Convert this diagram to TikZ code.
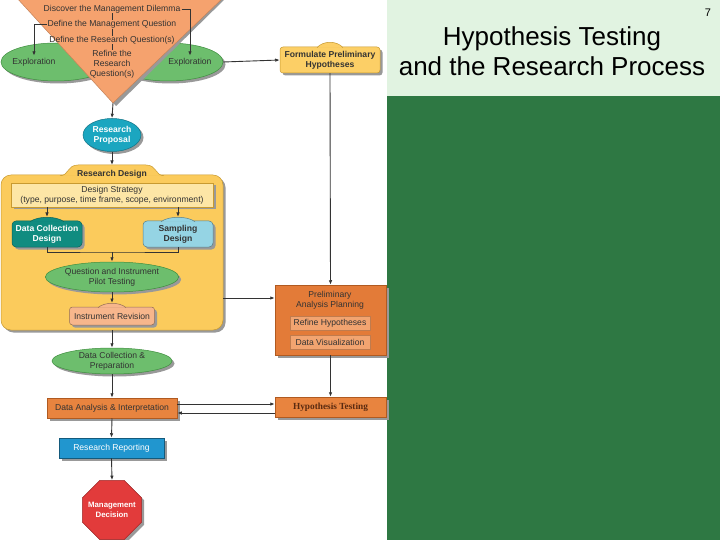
\documentclass[tikz,border=0pt]{standalone}
\usepackage{fontspec}
\setmainfont{Liberation Sans}
\newfontfamily\serifbold{Liberation Serif}
\usetikzlibrary{shapes.geometric,shadows,arrows.meta}
\definecolor{lgreen}{HTML}{E1F3E1}
\definecolor{dgreen}{HTML}{2E7843}
\definecolor{triorange}{HTML}{F5A26E}
\definecolor{ellgreen}{HTML}{6DBE6D}
\definecolor{ellline}{HTML}{3E8E3E}
\definecolor{rdgold}{HTML}{FBCB5C}
\definecolor{rdline}{HTML}{C89A30}
\definecolor{dsfill}{HTML}{FDE6A6}
\definecolor{propteal}{HTML}{1BA6C0}
\definecolor{dcdteal}{HTML}{108C80}
\definecolor{sdblue}{HTML}{95D4E4}
\definecolor{irfill}{HTML}{F7B68C}
\definecolor{papfill}{HTML}{E37B38}
\definecolor{papsub}{HTML}{F2A470}
\definecolor{htfill}{HTML}{E8843F}
\definecolor{orline}{HTML}{B05A20}
\definecolor{rrblue}{HTML}{2196CF}
\definecolor{mdred}{HTML}{E23B3B}
\definecolor{txt}{HTML}{333333}
\definecolor{htbrown}{HTML}{5A2A10}
\definecolor{fphfill}{HTML}{FCCF66}
\newcommand\tabbump[6]{%
  \filldraw[fill=#5,draw=#6,line width=0.5pt] (#1-#3,#2+0.7) .. controls (#1-#3*0.55,#2-#4*1.3) and (#1+#3*0.55,#2-#4*1.3) .. (#1+#3,#2+0.7);}
\begin{document}
\begin{tikzpicture}[x=1pt,y=-1pt,
  every node/.style={font=\fontsize{8.6}{10}\selectfont, align=center, inner sep=0pt, text=txt},
  arr/.style={-{Latex[length=4.5pt,width=3.5pt]}, draw=black!80, line width=0.9pt},
  ln/.style={draw=black!80, line width=0.9pt},
  shd/.style={drop shadow={shadow xshift=2.5pt,shadow yshift=-2.5pt,fill=black!40,opacity=1}},
  ell/.style={ellipse, fill=ellgreen, draw=ellline, line width=0.5pt, shd},
  box/.style={rectangle, line width=0.5pt, shd},
  bold/.style={font=\fontsize{8.6}{10}\selectfont\bfseries}
]
% background
\fill[white] (0,0) rectangle (720,540);
\fill[lgreen] (387,0) rectangle (720,96);
\fill[dgreen] (387,96) rectangle (720,540);
\useasboundingbox (0,0) rectangle (720,540);
\node[font=\fontsize{26}{30}\selectfont, text=black] (title) at (552,51) {Hypothesis Testing\\and the Research Process};
\node[font=\fontsize{11}{12}\selectfont, text=black] (pg) at (708,13) {7};

% exploration ellipses
\node[ell, minimum width=110, minimum height=38] (explL) at (56,62) {};
\node[ell, minimum width=110, minimum height=38] (explR) at (168,62) {};
\node (explLt) at (34,62) {Exploration};
\node (explRt) at (190,62) {Exploration};

% triangle
\fill[black!40] (22,-3) -- (227,-3) -- (116,106) -- cycle;
\filldraw[fill=triorange, draw=triorange!80!black, line width=0.5pt] (16,-3) -- (224,-3) -- (113,103) -- cycle;
\coordinate (apex) at (113,103);
\node (t1) at (112,9) {Discover the Management Dilemma};
\node (t2) at (112,24.5) {Define the Management Question};
\node (t3) at (112,40) {Define the Research Question(s)};
\node[font=\fontsize{8.6}{10}\selectfont] (t4) at (112,64) {Refine the\\Research\\Question(s)};
\draw[ln] (t1) -- (t2);
\draw[ln] (t2) -- (t3);
\draw[ln] (t3) -- (t4);
\draw[arr] ([xshift=1pt]t1.east) -| ([yshift=2pt]explRt.north);
\draw[arr] ([xshift=-1pt]t2.west) -| ([yshift=2pt]explLt.north);

% formulate preliminary hypotheses
\node[box, rounded corners=3, fill=fphfill, draw=rdline, minimum width=100, minimum height=26, bold] (fph) at (330,60) {Formulate Preliminary\\Hypotheses};
\tabbump{330}{47}{13}{5}{fphfill}{rdline}
\draw[arr] (explR.east) -- (fph.west);

% research proposal
\node[ell, fill=propteal, draw=propteal!70!black, minimum width=58, minimum height=33, bold, text=white] (rp) at (112,135) {Research\\Proposal};
\draw[arr] (apex) -- (rp.north);

% research design big box
\node[box, rounded corners=10, fill=rdgold, draw=rdline, minimum width=222, minimum height=155] (rd) at (112,252.5) {};
\filldraw[fill=rdgold, draw=rdline, line width=0.5pt] (60,175.7) .. controls (69,175.7) and (67,165) .. (78,165) -- (146,165) .. controls (157,165) and (155,175.7) .. (164,175.7);
\coordinate (rdtop) at (112,165);
\node[bold] (rdt) at (112,174) {Research Design};
\draw[arr] (rp.south) -- (rdtop);

\node[box, fill=dsfill, draw=rdline, minimum width=202, minimum height=24] (ds) at (112,195) {Design Strategy\\(type, purpose, time frame, scope, environment)};

\node[box, rounded corners=4, fill=dcdteal, draw=dcdteal!70!black, minimum width=70, minimum height=26, bold, text=white] (dcd) at (47,234) {Data Collection\\Design};
\tabbump{47}{221}{17}{4}{dcdteal}{dcdteal!70!black}
\coordinate (dcdtop) at (47,217);
\node[box, rounded corners=4, fill=sdblue, draw=sdblue!60!black, minimum width=70, minimum height=26, bold] (sd) at (178,234) {Sampling\\Design};
\tabbump{178}{221}{17}{4}{sdblue}{sdblue!60!black}
\coordinate (sdtop) at (178,217);
\draw[arr] (ds.south -| dcdtop) -- (dcdtop);
\draw[arr] (ds.south -| sdtop) -- (sdtop);

\node[ell, minimum width=124, minimum height=30] (qip) at (112,277) {Question and Instrument\\Pilot Testing};
\coordinate (mrg) at (112,252);
\draw[ln] (dcd.south) |- (mrg) -| (sd.south);
\draw[arr] (mrg) -- (qip.north);

\node[box, rounded corners=3, fill=irfill, draw=irfill!60!black, minimum width=85, minimum height=18] (ir) at (112,316) {Instrument Revision};
\tabbump{112}{307}{14}{4}{irfill}{irfill!60!black}
\coordinate (irtop) at (112,303);
\draw[arr] (qip.south) -- (irtop);

% preliminary analysis planning
\node[box, fill=papfill, draw=orline, minimum width=111, minimum height=70] (pap) at (330.5,320) {};
\node (papt) at (330,300) {Preliminary\\Analysis Planning};
\node[rectangle, fill=papsub, draw=orline!80, line width=0.5pt, minimum width=80, minimum height=14] (rh) at (330,323) {Refine Hypotheses};
\node[rectangle, fill=papsub, draw=orline!80, line width=0.5pt, minimum width=80, minimum height=14] (dv) at (330,342) {Data Visualization};
\draw[arr] (fph.south) -- (pap.north);
\coordinate (rdr) at (223,298);
\draw[arr] (rdr) -- (rdr -| pap.west);

% data collection & preparation
\node[ell, minimum width=120, minimum height=26] (dcp) at (112,361) {Data Collection \&\\Preparation};
\draw[arr] (rd.south) -- (dcp.north);

% data analysis
\node[box, fill=htfill, draw=orline, minimum width=130, minimum height=20] (da) at (112,408) {Data Analysis \& Interpretation};
\draw[arr] (dcp.south) -- (da.north);

% hypothesis testing
\node[box, fill=htfill, draw=orline, minimum width=111, minimum height=20, font=\fontsize{9.3}{10}\serifbold\bfseries, text=htbrown] (ht) at (330.5,407) {Hypothesis Testing};
\draw[arr] (pap.south) -- (ht.north);
\draw[arr] ([yshift=4pt]da.east) -- ([yshift=3pt]ht.west);
\draw[arr] ([yshift=-6pt]ht.west) -- ([yshift=-5pt]da.east);

% research reporting
\node[box, fill=rrblue, draw=rrblue!60!black, minimum width=105, minimum height=20, text=white] (rr) at (111.5,448) {Research Reporting};
\draw[arr] (da.south) -- (rr.north);

% management decision
\node[regular polygon, regular polygon sides=8, minimum size=64, fill=mdred, draw=mdred!70!black, line width=0.5pt, shd] (md) at (112,510) {};
\node[font=\fontsize{7.8}{10}\selectfont\bfseries, text=white] (mdt) at (md.center) {Management\\Decision};
\draw[arr] (rr.south) -- (md.north);
\end{tikzpicture}
\end{document}
